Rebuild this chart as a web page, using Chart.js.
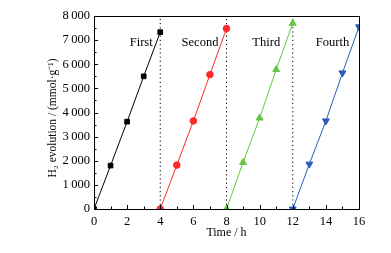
<!DOCTYPE html>
<html><head><meta charset="utf-8">
<script src="https://cdn.jsdelivr.net/npm/chart.js@4.4.0/dist/chart.umd.min.js"></script>
<style>html,body{margin:0;padding:0;background:#fff}#c{display:block}</style>
</head><body>
<canvas id="c" width="391" height="253"></canvas>
<script>
const firstX = [0, 1, 2, 3, 4];
const firstY = [0, 1800, 3620, 5500, 7330];
const secondX = [4, 5, 6, 7, 8];
const secondY = [0, 1820, 3650, 5570, 7480];
const thirdX = [8, 9, 10, 11, 12];
const thirdY = [0, 1930, 3770, 5780, 7700];
const fourthX = [12, 13, 14, 15, 16];
const fourthY = [0, 1860, 3650, 5640, 7550];
const cycleNames = ['First', 'Second', 'Third', 'Fourth'];
const cycleLabelX = [2.85, 6.4, 10.4, 14.4];
const cycleLabelY = 6880;
const dividers = [4, 8, 12];
const xTicks = [0, 2, 4, 6, 8, 10, 12, 14, 16];
const yTicks = [0, 1000, 2000, 3000, 4000, 5000, 6000, 7000, 8000];

const FONT = '"Liberation Serif", "Times New Roman", serif';
const pts = (xs, ys) => xs.map((x, i) => ({x, y: ys[i]}));
const fmt = v => v >= 1000 ? Math.floor(v / 1000) + '\u2009' + String(v % 1000).padStart(3, '0') : String(v);

function series(label, xs, ys, color, style, rot) {
  return {label, data: pts(xs, ys), showLine: true, borderColor: color, backgroundColor: color,
    borderWidth: 1, pointStyle: style, pointRotation: rot || 0, pointRadius: style === 'triangle' ? 4 : 3.3,
    pointBorderWidth: 1, tension: 0};
}
const dividerSets = dividers.map(d => ({data: [{x: d, y: 0}, {x: d, y: 8000}], showLine: true,
  borderColor: '#000', borderWidth: 1, borderDash: [1.2, 3], pointRadius: 0}));

const frame = {
  id: 'frame',
  afterDraw(chart) {
    const {ctx, chartArea: a, scales: {x, y}} = chart;
    ctx.save();
    ctx.strokeStyle = '#000'; ctx.lineWidth = 1;
    ctx.strokeRect(Math.round(a.left) + 0.5, Math.round(a.top) + 0.5, Math.round(a.right - a.left), Math.round(a.bottom - a.top));
    ctx.beginPath();
    for (let v = 0; v <= 16; v += 1) {
      const px = Math.round(x.getPixelForValue(v)) + 0.5;
      const len = v % 2 === 0 ? 4 : 2.5;
      ctx.moveTo(px, a.bottom); ctx.lineTo(px, a.bottom - len);
    }
    for (let v = 0; v <= 8000; v += 500) {
      const py = Math.round(y.getPixelForValue(v)) + 0.5;
      const len = v % 1000 === 0 ? 4 : 2.5;
      ctx.moveTo(a.left, py); ctx.lineTo(a.left + len, py);
    }
    ctx.stroke();
    ctx.fillStyle = '#000';
    ctx.font = '12.5px ' + FONT;
    ctx.textAlign = 'center'; ctx.textBaseline = 'middle';
    cycleNames.forEach((n, i) => ctx.fillText(n, x.getPixelForValue(cycleLabelX[i]), y.getPixelForValue(cycleLabelY)));
    ctx.font = '12px ' + FONT;
    ctx.fillText('Time / h', (a.left + a.right) / 2, 233);
    ctx.translate(53, 118);
    ctx.rotate(-Math.PI / 2);
    ctx.font = '11.5px ' + FONT;
    ctx.fillText('H\u2082 evolution / (mmol\u00B7g\u207B\u00B9)', 0, 0);
    ctx.restore();
  }
};

new Chart(document.getElementById('c'), {
  type: 'scatter',
  data: {datasets: [
    series('First', firstX, firstY, '#000000', 'rect'),
    series('Second', secondX, secondY, '#ff2a2a', 'circle'),
    series('Third', thirdX, thirdY, '#66c644', 'triangle'),
    series('Fourth', fourthX, fourthY, '#2a5cb8', 'triangle', 180),
    ...dividerSets
  ]},
  options: {
    responsive: false, animation: false, devicePixelRatio: 1,
    layout: {padding: {left: 0, right: 32, top: 16, bottom: 0}},
    plugins: {legend: {display: false}, tooltip: {enabled: false}},
    scales: {
      x: {type: 'linear', min: 0, max: 16,
        afterBuildTicks: s => { s.ticks = xTicks.map(v => ({value: v})); },
        afterFit: s => { s.height = 44; },
        grid: {display: false, drawTicks: false}, border: {display: false},
        ticks: {color: '#000', padding: 5, maxRotation: 0, font: {family: FONT, size: 12.5}}},
      y: {type: 'linear', min: 0, max: 8000,
        afterBuildTicks: s => { s.ticks = yTicks.map(v => ({value: v})); },
        afterFit: s => { s.width = 94; },
        grid: {display: false, drawTicks: false}, border: {display: false},
        ticks: {color: '#000', padding: 4, callback: v => fmt(v), font: {family: FONT, size: 12.5}}}
    }
  },
  plugins: [frame]
});
</script>
</body></html>
